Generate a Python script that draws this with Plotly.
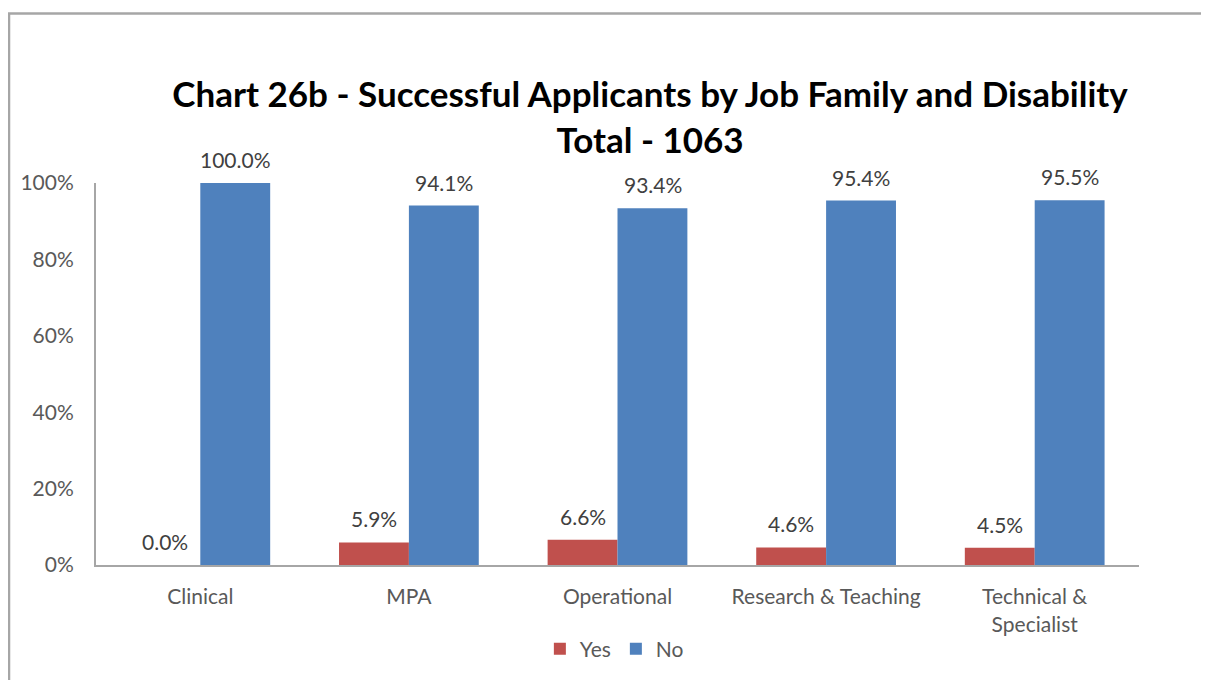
import plotly.graph_objects as go

# Data
categories = ["Clinical", "MPA", "Operational", "Research & Teaching", "Technical &<br>Specialist"]
yes_values = [0.0, 5.9, 6.6, 4.6, 4.5]
no_values = [100.0, 94.1, 93.4, 95.4, 95.5]

colors = {"Yes": "#C0504D", "No": "#4F81BD"}
font_family = "Lato, Carlito, Calibri, sans-serif"

fig = go.Figure()

for name, vals in [("Yes", yes_values), ("No", no_values)]:
    fig.add_trace(go.Bar(
        x=categories, y=vals, name=name,
        marker=dict(color=colors[name], line=dict(width=0)),
        cliponaxis=False,
    ))

# Data labels a little above each bar
for name, vals, shift in [("Yes", yes_values, -35), ("No", no_values, 35)]:
    for cat, v in zip(categories, vals):
        fig.add_annotation(
            x=cat, y=v, xshift=shift, yshift=9,
            text=f"{v:.1f}%", showarrow=False,
            xanchor="center", yanchor="bottom",
            font=dict(size=21, color="#404040", family=font_family),
        )

# Outer chart frame (grey border at top and left)
fig.add_shape(
    type="rect", xref="paper", yref="paper",
    x0=-0.0834, x1=1.3, y0=-0.6, y1=1.444,
    line=dict(color="#A6A6A6", width=2.5),
    fillcolor="rgba(0,0,0,0)", layer="below",
)

fig.update_layout(
    width=1201, height=672,
    margin=dict(l=88, r=70, t=175, b=114),
    title=dict(
        text="<b>Chart 26b - Successful Applicants by Job Family and Disability<br>Total - 1063</b>",
        x=0.5346, xanchor="center", y=0.852, yanchor="middle",
        font=dict(size=35, color="#000000", family=font_family),
    ),
    barmode="group", bargap=0.33, bargroupgap=0,
    plot_bgcolor="white", paper_bgcolor="white",
    font=dict(family=font_family, color="#595959"),
    xaxis=dict(
        showgrid=False, zeroline=False, showline=True, linecolor="#A6A6A6", linewidth=2,
        tickfont=dict(size=21, color="#595959"),
        ticks="outside", ticklen=12, tickcolor="rgba(0,0,0,0)",
    ),
    yaxis=dict(
        range=[0, 100], dtick=20, ticksuffix="%", showgrid=False, zeroline=False,
        showline=True, linecolor="#A6A6A6", linewidth=2,
        tickfont=dict(size=21, color="#595959"),
        ticks="outside", ticklen=16, tickcolor="rgba(0,0,0,0)",
    ),
    legend=dict(
        orientation="h", x=0.497, xanchor="center", y=-0.2167, yanchor="middle",
        font=dict(size=21, color="#595959"), traceorder="normal",
        itemwidth=30,
    ),
)

fig.write_html("out.html")
